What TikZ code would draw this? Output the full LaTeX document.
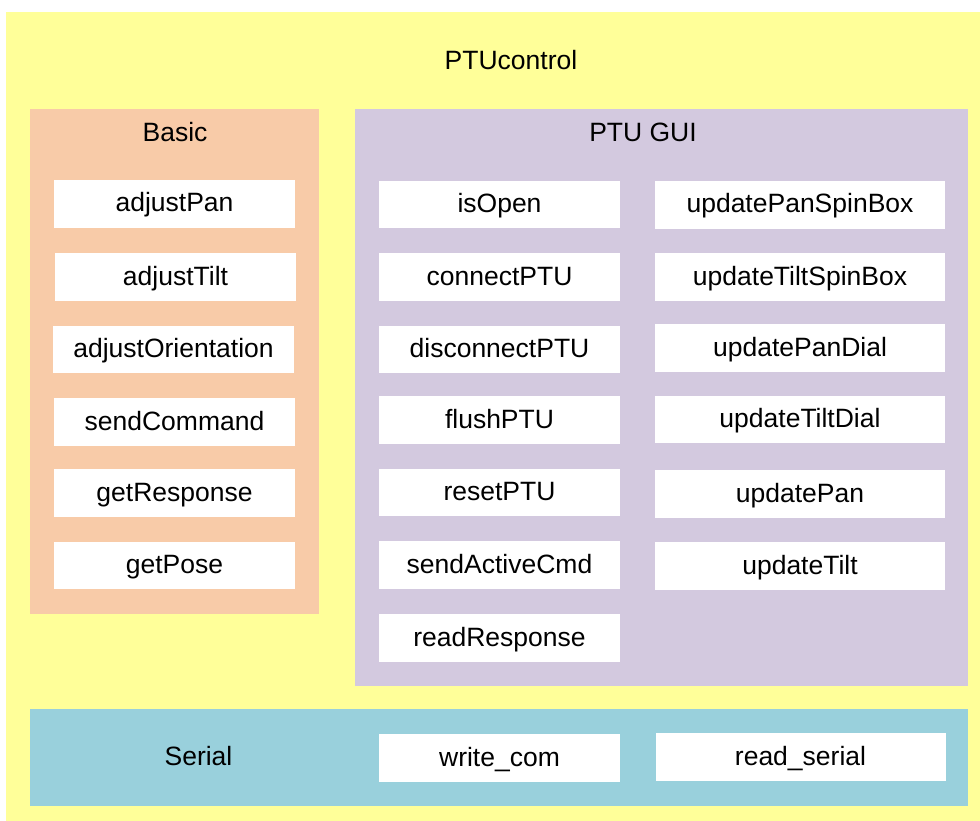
\documentclass[tikz,border=0pt]{standalone}
\usepackage{fontspec}
\setmainfont{Liberation Sans}
\definecolor{outerY}{HTML}{FFFF99}
\definecolor{peachC}{HTML}{F8CBA8}
\definecolor{lavC}{HTML}{D3C9DF}
\definecolor{blueC}{HTML}{99D0DC}
\tikzset{
  region/.style={rectangle, inner sep=0pt, draw=none},
  fnbox/.style={rectangle, fill=white, draw=none, inner sep=0pt,
    minimum height=47.5pt, text height=20pt, text depth=4pt,
    font=\fontsize{26.5}{30}\selectfont},
  narrow/.style={fnbox, minimum width=241pt},
  wide/.style={fnbox, minimum width=290pt},
  title/.style={anchor=base, inner sep=0pt, font=\fontsize{26.5}{30}\selectfont}
}
\begin{document}
\begin{tikzpicture}[x=1pt,y=-1pt]
\useasboundingbox (0,0) rectangle (980,821);
\fill[white] (0,0) rectangle (980,821);
% regions
\node[region, fill=outerY, minimum width=974pt, minimum height=809pt] (ptu) at (493,416.5) {};
\node[region, fill=peachC, minimum width=289pt, minimum height=505pt] (basic) at (174.5,361.5) {};
\node[region, fill=lavC, minimum width=613pt, minimum height=577pt] (gui) at (661.5,397.5) {};
\node[region, fill=blueC, minimum width=938pt, minimum height=97pt] (serial) at (499,757.5) {};
% titles
\node[title] (tPTU) at (511,70) {PTUcontrol};
\node[title] (tBasic) at (175,142) {Basic};
\node[title] (tGUI) at (643,142) {PTU GUI};
\node[title] (tSerial) at (198.5,765) {Serial};
% Basic
\node[narrow] (adjustPan) at (174.5,204) {adjustPan};
\node[narrow] (adjustTilt) at (175.5,277) {adjustTilt};
\node[narrow] (adjustOrientation) at (173.5,349.5) {adjustOrientation};
\node[narrow] (sendCommand) at (174.5,422) {sendCommand};
\node[narrow] (getResponse) at (174.5,493) {getResponse};
\node[narrow] (getPose) at (174.5,565.5) {getPose};
% GUI left
\node[narrow] (isOpen) at (499.5,204.5) {isOpen};
\node[narrow] (connectPTU) at (499.5,277) {connectPTU};
\node[narrow] (disconnectPTU) at (499.5,349.5) {disconnectPTU};
\node[narrow] (flushPTU) at (499.5,420) {flushPTU};
\node[narrow] (resetPTU) at (499.5,492.5) {resetPTU};
\node[narrow] (sendActiveCmd) at (499.5,565) {sendActiveCmd};
\node[narrow] (readResponse) at (499.5,638) {readResponse};
% GUI right
\node[wide] (updatePanSpinBox) at (800,205) {updatePanSpinBox};
\node[wide] (updateTiltSpinBox) at (800,277) {updateTiltSpinBox};
\node[wide] (updatePanDial) at (800,348) {updatePanDial};
\node[wide] (updateTiltDial) at (800,419.5) {updateTiltDial};
\node[wide] (updatePan) at (800,494) {updatePan};
\node[wide] (updateTilt) at (800,566) {updateTilt};
% Serial
\node[narrow] (writeCom) at (499.5,758) {write\_com};
\node[wide] (readSerial) at (800.5,757) {read\_serial};
\end{tikzpicture}
\end{document}
